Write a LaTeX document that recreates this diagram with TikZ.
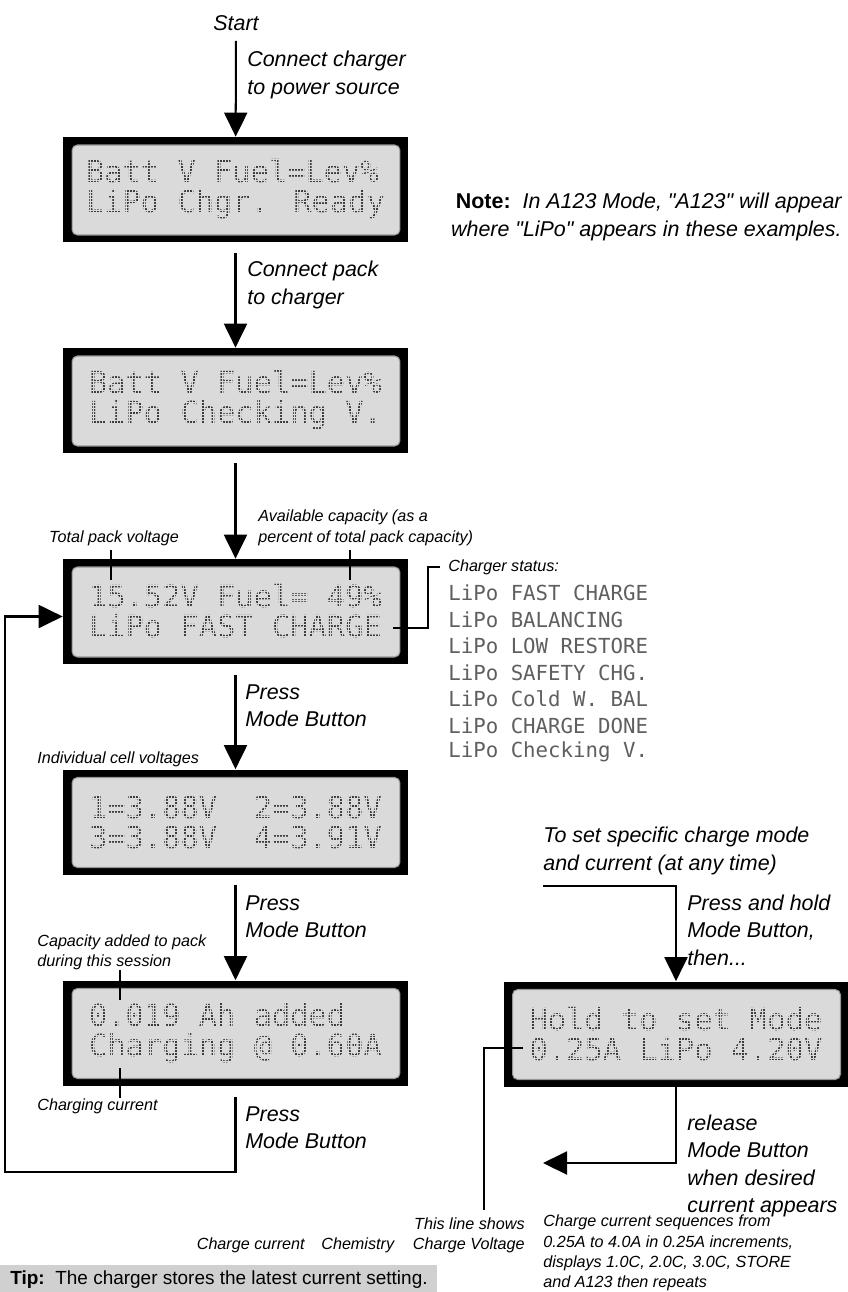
\documentclass[tikz,border=0pt]{standalone}
\usepackage{fontspec}
\setmainfont{Liberation Sans}[Ligatures=TeXOff]
\newfontfamily\lcdfont{DejaVu Sans Mono}
\usetikzlibrary{arrows.meta}
\definecolor{lcdback}{RGB}{218,218,218}
\definecolor{lcdedge}{RGB}{150,150,150}
\definecolor{lcdtext}{RGB}{60,60,60}
\definecolor{listtext}{RGB}{95,95,95}
\definecolor{tipback}{RGB}{208,208,208}
\newcommand{\lcddots}[1]{\draw[lcdback, line width=0.3pt, step=0.06cm] ([xshift=0.3cm,yshift=-0.3cm]#1.north west) grid ([xshift=-0.3cm,yshift=0.3cm]#1.south east);}

\begin{document}
\begin{tikzpicture}[x=0.02cm,y=-0.02cm]
    \tikzset{lcd/.style={fill=black, minimum width=6.9cm, minimum height=2.1cm, inner sep=0pt, align=left, text=lcdtext,
                 font=\lcdfont\fontsize{17.3}{17.1}\selectfont,
                 path picture={\draw[draw=lcdedge, fill=lcdback, line width=0.6pt, rounded corners=3pt]
                   ([xshift=0.18cm,yshift=-0.16cm]path picture bounding box.north west) rectangle
                   ([xshift=-0.16cm,yshift=0.14cm]path picture bounding box.south east);}},
             flow/.style={line width=1.15pt, -{Triangle[width=0.46cm,length=0.48cm]}},
             tick/.style={line width=0.6pt},
             lbl/.style={font=\itshape\fontsize{12.2}{15.6}\selectfont, align=left, anchor=west, inner sep=0pt},
             small/.style={font=\itshape\fontsize{9.2}{11.6}\selectfont, align=left, anchor=west, inner sep=0pt},
             stat/.style={font=\lcdfont\fontsize{11.8}{11.8}\selectfont, text=listtext, anchor=west, inner sep=0pt}}
    \useasboundingbox (0,0) rectangle (848,1292);

    \node[lcd] (lcd1) at (235.5,189.5) {Batt V Fuel=Lev\%\\LiPo Chgr. Ready};
    \node[lcd] (lcd2) at (235.5,400.5) {Batt V Fuel=Lev\%\\LiPo Checking V.};
    \node[lcd] (lcd3) at (235.5,611.5) {15.52V Fuel= 49\%\\LiPo FAST CHARGE};
    \node[lcd] (lcd4) at (235.5,822) {1=3.88V~~2=3.88V\\3=3.88V~~4=3.91V};
    \node[lcd] (lcd5) at (235.5,1033) {0.019 Ah added\\Charging @ 0.60A};
    \node[lcd] (lcd6) at (676,1034) {Hold to set Mode\\0.25A LiPo 4.20V};
    \foreach \n in {lcd1,lcd2,lcd3,lcd4,lcd5,lcd6} {\lcddots{\n}}

    \node[lbl, anchor=center] (start) at (236,23) {Start};
    \node[lbl] (conn1) at (247,75) {Connect charger\\to power source};
    \node[lbl] (conn2) at (247,285) {Connect pack\\to charger};
    \node[lbl] (press1) at (245,706) {Press\\Mode Button};
    \node[lbl] (press2) at (245,917) {Press\\Mode Button};
    \node[lbl] (press3) at (245,1128) {Press\\Mode Button};
    \node[lbl, anchor=east, align=right] (note) at (842,217) {\textbf{\textup{Note:}}\ \ In A123 Mode, "A123" will appear\\where "LiPo" appears in these examples.};

    \node[small, anchor=center] (volt) at (114,538) {Total pack voltage};
    \node[small] (avail) at (258,528) {Available capacity (as a\\percent of total pack capacity)};
    \node[small] (status) at (448,567) {Charger status:};
    \node[small] (cells) at (37,759) {Individual cell voltages};
    \node[small] (added) at (37,952) {Capacity added to pack\\during this session};
    \node[small] (curr) at (37,1106) {Charging current};

    \foreach \txt [count=\i] in {LiPo FAST CHARGE, LiPo BALANCING, LiPo LOW RESTORE, LiPo SAFETY CHG., LiPo Cold W. BAL, LiPo CHARGE DONE, LiPo Checking V.}
        \node[stat] (stat\i) at (448,566.5+26.5*\i) {\txt};

    \node[lbl] (toset) at (543,851) {To set specific charge mode\\and current (at any time)};
    \node[lbl] (hold) at (687,930) {Press and hold\\Mode Button,\\then...};
    \node[lbl] (release) at (687,1166) {release\\Mode Button\\when desired\\current appears};
    \node[small] (seq) at (543,1253) {Charge current sequences from\\0.25A to 4.0A in 0.25A increments,\\displays 1.0C, 2.0C, 3.0C, STORE\\and A123 then repeats};
    \node[small, anchor=base east, align=right] (chgv) at (525,1249.4) {This line shows\\Charge Voltage};
    \node[small, anchor=base east] (chgc) at (305,1249.4) {Charge current};
    \node[small, anchor=base west] (chem) at (321,1249.4) {Chemistry};

    \fill[tipback] (0,1265) rectangle (437,1292);
    \node[anchor=west, inner sep=0pt, font=\fontsize{10.8}{12}\selectfont] (tip) at (10,1280) {\textbf{Tip:}\ \ The charger stores the latest current setting.};

    \draw[flow, shorten <=0.2cm] (start) -- (lcd1);
    \draw[flow, shorten <=0.22cm] (lcd1) -- (lcd2);
    \draw[flow, shorten <=0.2cm] (lcd2) -- (lcd3);
    \draw[flow, shorten <=0.22cm] (lcd3) -- (lcd4);
    \draw[flow, shorten <=0.2cm] (lcd4) -- (lcd5);
    \coordinate (back) at (5,1172);
    \draw[flow, shorten <=0.22cm] (lcd5) |- (back) |- ([yshift=-0.1cm]lcd3.west);
    \coordinate (setin) at (543,886);
    \draw[flow] (setin) -| (lcd6);
    \coordinate (setout) at (543,1163);
    \draw[flow] (lcd6) |- (setout);

    \coordinate (voltpt) at (111,580);
    \draw[tick, shorten <=0.08cm] (volt.south -| voltpt) -- (voltpt);
    \coordinate (availpt) at (350,580);
    \draw[tick, shorten <=0.08cm] (avail.south -| availpt) -- (availpt);
    \coordinate (statpt) at (393,628);
    \draw[tick, shorten >=0.16cm] (statpt) -- ++(35,0) |- (status.west);
    \coordinate (addpt) at (120,1000);
    \draw[tick] (added.south -| addpt) -- (addpt);
    \coordinate (currpt) at (120,1068);
    \draw[tick] (currpt) -- (curr.north -| currpt);
    \coordinate (vpt) at (523,1048);
    \coordinate (vend) at (484,1210);
    \draw[tick] (vpt) -| (vend);
\end{tikzpicture}
\end{document}
